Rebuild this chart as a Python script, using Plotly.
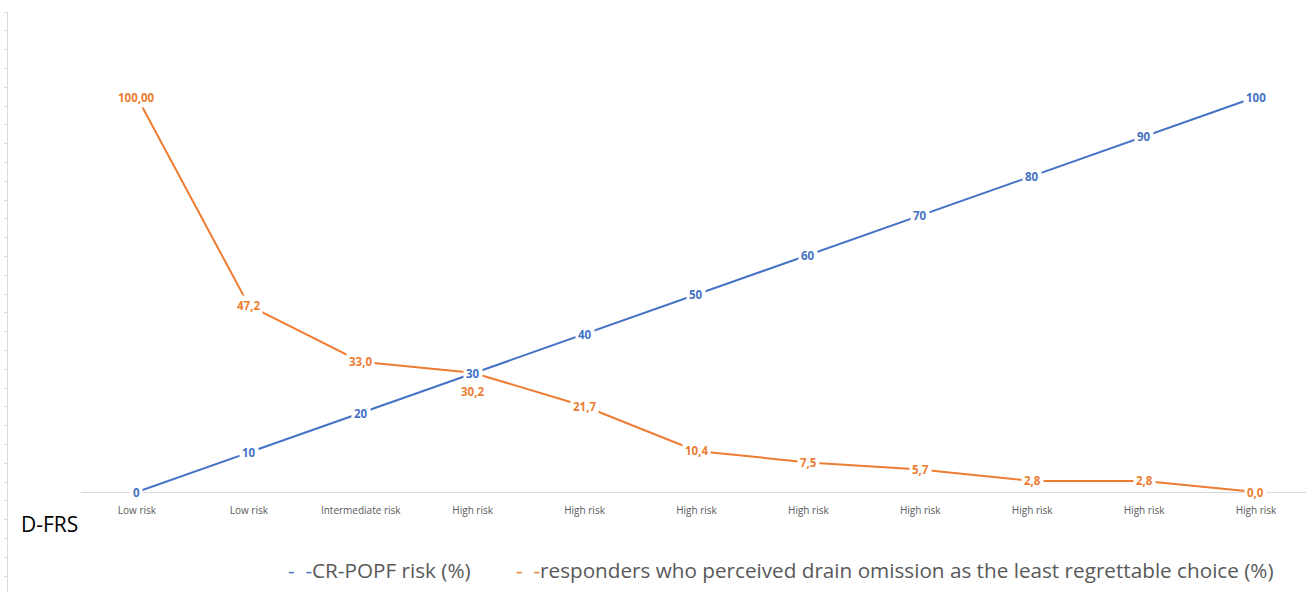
import plotly.graph_objects as go

categories = ["Low risk", "Low risk", "Intermediate risk", "High risk", "High risk", "High risk",
              "High risk", "High risk", "High risk", "High risk", "High risk"]
popf_risk = [0, 10, 20, 30, 40, 50, 60, 70, 80, 90, 100]
drain_omission = [100.00, 47.2, 33.0, 30.2, 21.7, 10.4, 7.5, 5.7, 2.8, 2.8, 0.0]
popf_labels = ["0", "10", "20", "30", "40", "50", "60", "70", "80", "90", "100"]
drain_labels = ["100,00", "47,2", "33,0", "30,2", "21,7", "10,4", "7,5", "5,7", "2,8", "2,8", "0,0"]

BLUE = "#4472C4"
ORANGE = "#ED7D31"
W, H = 1306, 592
xpos = list(range(len(categories)))

fig = go.Figure()
fig.add_trace(go.Scatter(x=[], y=[], xaxis="x2", yaxis="y2", showlegend=False, hoverinfo="skip"))
fig.add_trace(go.Scatter(x=xpos, y=drain_omission, mode="lines",
                         line=dict(color=ORANGE, width=2), showlegend=False, hoverinfo="skip"))
fig.add_trace(go.Scatter(x=xpos, y=popf_risk, mode="lines",
                         line=dict(color=BLUE, width=2), showlegend=False, hoverinfo="skip"))

annotations = []
for i, (v, t) in enumerate(zip(drain_omission, drain_labels)):
    annotations.append(dict(x=xpos[i], y=v, xref="x", yref="y", text=t, showarrow=False,
                            font=dict(family="Open Sans", size=11.5, color=ORANGE, weight="bold"),
                            bgcolor="white", borderpad=2,
                            yshift=-19 if t == "30,2" else 0))
for i, (v, t) in enumerate(zip(popf_risk, popf_labels)):
    annotations.append(dict(x=xpos[i], y=v, xref="x", yref="y", text=t, showarrow=False,
                            font=dict(family="Open Sans", size=11.5, color=BLUE, weight="bold"),
                            bgcolor="white", borderpad=2))

annotations.append(dict(x=19 / W, y=(H - 524) / H, xref="paper", yref="paper", xanchor="left",
                        yanchor="middle", text="D-FRS", showarrow=False,
                        font=dict(family="Open Sans", size=21, color="#000000")))
annotations.append(dict(x=286 / W, y=(H - 570) / H, xref="paper", yref="paper", xanchor="left",
                        yanchor="middle", showarrow=False,
                        text="<span style='color:%s'>-  -</span>CR-POPF risk (%%)" % BLUE,
                        font=dict(family="Open Sans", size=20.7, color="#595959")))
annotations.append(dict(x=514 / W, y=(H - 570) / H, xref="paper", yref="paper", xanchor="left",
                        yanchor="middle", showarrow=False,
                        text="<span style='color:%s'>-  -</span>responders who perceived drain omission as the least regrettable choice (%%)" % ORANGE,
                        font=dict(family="Open Sans", size=20.7, color="#595959")))

fig.update_layout(
    width=W, height=H,
    margin=dict(l=0, r=0, t=0, b=0),
    paper_bgcolor="white", plot_bgcolor="rgba(0,0,0,0)",
    showlegend=False,
    xaxis=dict(domain=[81 / W, 1], range=[-0.5, 10.447], tickmode="array", tickvals=xpos,
               ticktext=categories, showline=True, linecolor="#d9d9d9", linewidth=1,
               showgrid=False, zeroline=False, ticks="", ticklabelstandoff=9, anchor="y",
               tickfont=dict(family="Open Sans", size=10, color="#595959")),
    yaxis=dict(domain=[(H - 492) / H, 1], range=[0, 492 / 3.95], visible=False, anchor="x"),
    xaxis2=dict(domain=[8 / W, 1], range=[0, 1], visible=False, anchor="y2"),
    yaxis2=dict(anchor="x2", domain=[0, 1 - 12 / H],
                range=[0.15, 0.15 + 580 / 18.8], dtick=1, tick0=0, showline=True,
                linecolor="#d9d9d9", ticks="outside", ticklen=3, tickcolor="#d9d9d9",
                showticklabels=False, showgrid=False, zeroline=False),
    annotations=annotations,
)

fig.write_html("out.html", config={"displayModeBar": False},
               post_script="document.body.style.margin='0';")
